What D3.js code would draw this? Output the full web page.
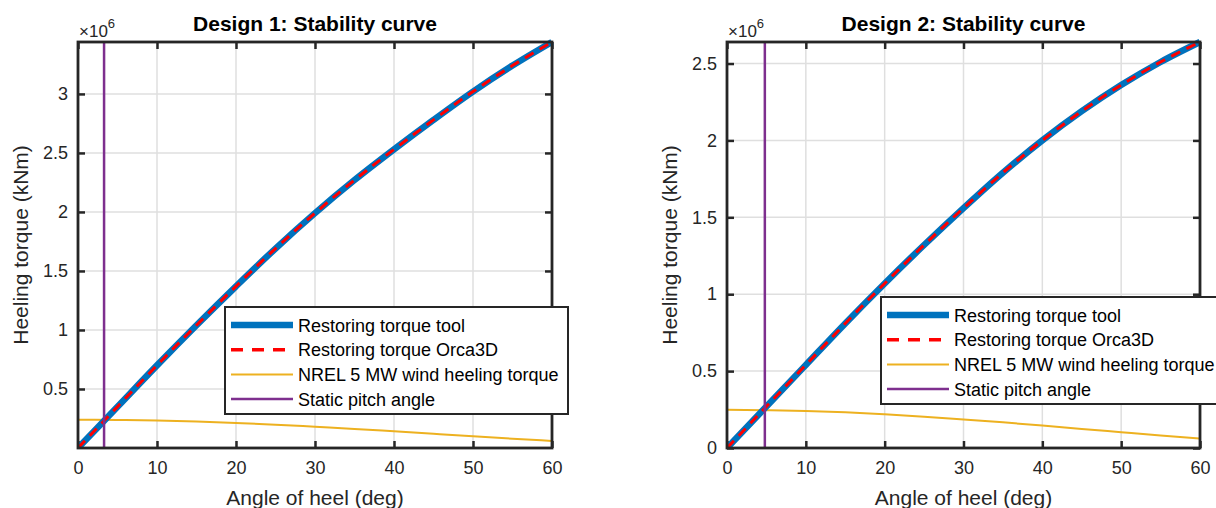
<!DOCTYPE html>
<html>
<head>
<meta charset="utf-8">
<script src="https://cdn.jsdelivr.net/npm/d3@7"></script>
<style>
  body { margin: 0; background: #fff; }
  svg { font-family: "Liberation Sans", Arial, sans-serif; }
</style>
</head>
<body>
<div id="chart-area"></div>
<script>
// angles (deg)
var angles = [0, 5, 10, 15, 20, 25, 30, 35, 40, 45, 50, 55, 60];

// design 1 (x 1e6 kNm)
var restoring1 = [0, 0.35, 0.70, 1.04, 1.37, 1.69, 1.99, 2.27, 2.53, 2.78, 3.02, 3.24, 3.44];
var orca1 = [0, 0.35, 0.70, 1.04, 1.37, 1.69, 1.99, 2.27, 2.53, 2.78, 3.02, 3.24, 3.44];
var wind1 = [0.240, 0.238, 0.233, 0.224, 0.212, 0.198, 0.180, 0.162, 0.141, 0.120, 0.099, 0.079, 0.060];
var pitch1 = 3.3;

// design 2 (x 1e6 kNm)
var restoring2 = [0, 0.27, 0.54, 0.81, 1.07, 1.32, 1.56, 1.79, 2.00, 2.19, 2.36, 2.51, 2.64];
var orca2 = [0, 0.27, 0.54, 0.81, 1.07, 1.32, 1.56, 1.79, 2.00, 2.19, 2.36, 2.51, 2.64];
var wind2 = [0.248, 0.246, 0.241, 0.232, 0.219, 0.204, 0.186, 0.167, 0.146, 0.124, 0.103, 0.082, 0.062];
var pitch2 = 4.8;

var xTicks = [0, 10, 20, 30, 40, 50, 60];
var yTicks1 = [0.5, 1, 1.5, 2, 2.5, 3];
var yTicks2 = [0, 0.5, 1, 1.5, 2, 2.5];

var legendNames = ['Restoring torque tool', 'Restoring torque Orca3D', 'NREL 5 MW wind heeling torque', 'Static pitch angle'];

var svg = d3.select('#chart-area')
    .append('svg')
        .attr('width', 1216)
        .attr('height', 508);

function drawPanel(p) {
    var left = p.left, right = p.right, top = 42, bottom = 448;

    var x = d3.scaleLinear().domain([0, 60]).range([left, right]);
    var y = d3.scaleLinear().domain([0, p.ymax]).range([bottom, top]);

    var g = svg.append('g');

    // grid
    g.selectAll('.vgrid').data(xTicks).enter().append('line')
        .attr('x1', function(d){ return x(d); })
        .attr('x2', function(d){ return x(d); })
        .attr('y1', top).attr('y2', bottom)
        .attr('stroke', '#dfdfdf').attr('stroke-width', 1.5);
    g.selectAll('.hgrid').data(p.yTicks).enter().append('line')
        .attr('y1', function(d){ return y(d); })
        .attr('y2', function(d){ return y(d); })
        .attr('x1', left).attr('x2', right)
        .attr('stroke', '#dfdfdf').attr('stroke-width', 1.5);

    // axes
    var xAxisCall = d3.axisBottom(x).tickValues(xTicks).tickSizeInner(-7).tickSizeOuter(0).tickPadding(13);
    var xAx = g.append('g')
        .attr('transform', 'translate(0,' + bottom + ')')
        .call(xAxisCall);
    var yAxisCall = d3.axisLeft(y).tickValues(p.yTicks).tickSizeInner(-7).tickSizeOuter(0).tickPadding(10)
        .tickFormat(function(d){ return d3.format('')(d); });
    var yAx = g.append('g')
        .attr('transform', 'translate(' + left + ',0)')
        .call(yAxisCall);
    // top and right ticks
    var xTop = g.append('g')
        .attr('transform', 'translate(0,' + top + ')')
        .call(d3.axisTop(x).tickValues(xTicks).tickSizeInner(-7).tickSizeOuter(0).tickFormat(''));
    var yRight = g.append('g')
        .attr('transform', 'translate(' + right + ',0)')
        .call(d3.axisRight(y).tickValues(p.yTicks).tickSizeInner(-7).tickSizeOuter(0).tickFormat(''));

    [xAx, yAx, xTop, yRight].forEach(function(a){
        a.select('.domain').remove();
        a.selectAll('line').attr('stroke', '#262626').attr('stroke-width', 2.5);
        a.selectAll('text').attr('font-size', '18px').attr('fill', '#262626')
            .attr('font-family', '"Liberation Sans", Arial, sans-serif');
    });

    var clipId = 'clip' + p.id;
    svg.append('clipPath').attr('id', clipId)
        .append('rect').attr('x', left).attr('y', top - 4)
        .attr('width', right - left + 4).attr('height', bottom - top + 4);

    var lines = g.append('g').attr('clip-path', 'url(#' + clipId + ')');

    var line = d3.line()
        .x(function(d){ return x(d[0]); })
        .y(function(d){ return y(d[1]); })
        .curve(d3.curveMonotoneX);

    lines.append('path')
        .datum(d3.zip(angles, p.wind))
        .attr('d', line).attr('fill', 'none')
        .attr('stroke', '#EDB120').attr('stroke-width', 2);

    lines.append('path')
        .datum(d3.zip(angles, p.restoring))
        .attr('d', line).attr('fill', 'none')
        .attr('stroke', '#0072BD').attr('stroke-width', 6.5);

    lines.append('path')
        .datum(d3.zip(angles, p.orca))
        .attr('d', line).attr('fill', 'none')
        .attr('stroke', '#FF0000').attr('stroke-width', 3)
        .attr('stroke-dasharray', '10,7');

    lines.append('line')
        .attr('x1', x(p.pitch)).attr('x2', x(p.pitch))
        .attr('y1', top).attr('y2', bottom)
        .attr('stroke', '#7E2F8E').attr('stroke-width', 2.5);

    // box
    g.append('rect')
        .attr('x', left).attr('y', top)
        .attr('width', right - left).attr('height', bottom - top)
        .attr('fill', 'none').attr('stroke', '#262626').attr('stroke-width', 2.8);

    // title
    g.append('text')
        .attr('x', (left + right) / 2).attr('y', 31)
        .attr('text-anchor', 'middle')
        .attr('font-size', '21px').attr('font-weight', 'bold')
        .attr('fill', '#000')
        .text(p.title);

    // exponent
    var ex = g.append('text')
        .attr('x', left + 1).attr('y', 37)
        .attr('font-size', '17px').attr('fill', '#262626');
    ex.append('tspan').text('\u00d710');
    ex.append('tspan').attr('font-size', '13px').attr('dy', -9).text('6');

    // labels
    g.append('text')
        .attr('x', (left + right) / 2).attr('y', 505)
        .attr('text-anchor', 'middle')
        .attr('font-size', '21px').attr('fill', '#262626')
        .text('Angle of heel (deg)');
    g.append('text')
        .attr('transform', 'translate(' + (left - 50) + ',' + ((top + bottom) / 2) + ') rotate(-90)')
        .attr('text-anchor', 'middle')
        .attr('font-size', '21px').attr('fill', '#262626')
        .text('Heeling torque (kNm)');

    // legend
    var lg = g.append('g').attr('transform', 'translate(' + p.legX + ',' + p.legY + ')');
    lg.append('rect')
        .attr('x', 0).attr('y', 0)
        .attr('width', 343).attr('height', 107)
        .attr('fill', '#fff').attr('stroke', '#262626').attr('stroke-width', 2);
    var styles = [
        {c: '#0072BD', w: 6.5, d: null},
        {c: '#FF0000', w: 3.5, d: '12,9'},
        {c: '#EDB120', w: 2, d: null},
        {c: '#7E2F8E', w: 2.5, d: null}
    ];
    legendNames.forEach(function(name, i){
        var yy = 18 + i * 24.7;
        lg.append('line')
            .attr('x1', 6).attr('x2', 68)
            .attr('y1', yy).attr('y2', yy)
            .attr('stroke', styles[i].c).attr('stroke-width', styles[i].w)
            .attr('stroke-dasharray', styles[i].d);
        lg.append('text')
            .attr('x', 73).attr('y', yy + 6.5)
            .attr('font-size', '18px').attr('fill', '#000')
            .text(name);
    });
}

drawPanel({id: 1, left: 78, right: 552, ymax: 3.44, yTicks: yTicks1,
    restoring: restoring1, orca: orca1, wind: wind1, pitch: pitch1,
    title: 'Design 1: Stability curve', legX: 225, legY: 307});

drawPanel({id: 2, left: 727, right: 1200, ymax: 2.64, yTicks: yTicks2,
    restoring: restoring2, orca: orca2, wind: wind2, pitch: pitch2,
    title: 'Design 2: Stability curve', legX: 881, legY: 297});
</script>
</body>
</html>
